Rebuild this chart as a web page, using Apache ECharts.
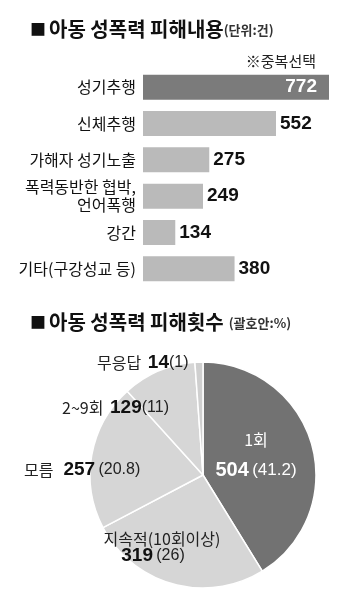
<!DOCTYPE html>
<html><head><meta charset="utf-8">
<script src="https://cdn.jsdelivr.net/npm/echarts@6/dist/echarts.min.js"></script>
<style>html,body{margin:0;padding:0;background:#fff}#c{width:353px;height:607px}</style>
</head><body><div id="c"></div>
<script>
const barCats = ['성기추행', '신체추행', '가해자 성기노출', '폭력동반한 협박,\n언어폭행', '강간', '기타(구강성교 등)'];
const barValues = [772, 552, 275, 249, 134, 380];
const pieNames = ['1회', '지속적(10회이상)', '모름', '2~9회', '무응답'];
const pieValues = [504, 319, 257, 129, 14];
const piePercents = ['41.2', '26', '20.8', '11', '1'];

const KR = "'Noto Sans CJK KR', 'Noto Sans', sans-serif";
const NUM = "'Liberation Sans', Arial, sans-serif";

// label anchor layout for pie labels (x, y, align)
const pieLabelLayout = [
  {x: 256, y: 455, align: 'center'},
  {x: 162, y: 548, align: 'center'},
  {x: 24, y: 470, align: 'left'},
  {x: 62, y: 408, align: 'left'},
  {x: 97, y: 363, align: 'left'}
];

const chart = echarts.init(document.getElementById('c'), null, {renderer: 'canvas'});

const titleRich = {
  sq: {fontSize: 16, fontFamily: KR, color: '#111', padding: [0, 3, 0, 0]},
  t: {fontSize: 20, fontWeight: 'bold', fontFamily: KR, color: '#111'},
  u: {fontSize: 13, fontFamily: KR, color: '#333', padding: [3, 0, 0, 0]}
};

const barData = barValues.map((v, i) => ({
  value: v,
  itemStyle: {color: i === 0 ? '#7b7b7b' : '#bababa'},
  label: i === 0 ? {position: 'insideRight', distance: 12, color: '#fff'} : {position: 'right', distance: 4, color: '#111'}
}));

const pieColors = ['#727272', '#d6d6d6', '#d6d6d6', '#d6d6d6', '#cfcfcf'];
const pieData = pieValues.map((v, i) => ({
  name: pieNames[i], value: v, itemStyle: {color: pieColors[i]}
}));

const pieRich = {
  n: {fontSize: 16, fontFamily: KR, color: '#222'},
  nw: {fontSize: 16, fontFamily: KR, color: '#fff', lineHeight: 30},
  b: {fontSize: 19, fontWeight: 'bold', fontFamily: NUM, color: '#111'},
  bw: {fontSize: 20, fontWeight: 'bold', fontFamily: NUM, color: '#fff', lineHeight: 30},
  p: {fontSize: 16, fontFamily: NUM, color: '#222'},
  p2: {fontSize: 16, fontFamily: NUM, color: '#222', padding: [0, 18, 0, 0]},
  pw: {fontSize: 17, fontFamily: NUM, color: '#fff', lineHeight: 30}
};

chart.setOption({
  animation: false,
  title: [
    {text: '{sq|■}{t|아동 성폭력 피해내용}{u|(단위:건)}', left: 25, top: 14, textStyle: {rich: titleRich}},
    {text: '※중복선택', right: 32, top: 49, textStyle: {fontSize: 15, fontWeight: 'normal', fontFamily: KR, color: '#222'}},
    {text: '{sq|■}{t|아동 성폭력 피해횟수} {u|(괄호안:%)}', left: 25, top: 307, textStyle: {rich: titleRich}}
  ],
  grid: {left: 143, right: 24, top: 69, height: 218, containLabel: false},
  xAxis: {type: 'value', min: 0, max: 772, show: false},
  yAxis: {
    type: 'category', data: barCats, inverse: true,
    axisLine: {show: false}, axisTick: {show: false},
    axisLabel: {fontSize: 16, color: '#111', fontFamily: KR, margin: 7, lineHeight: 18}
  },
  series: [
    {
      type: 'bar', data: barData, barWidth: 25,
      label: {show: true, fontSize: 19, fontWeight: 'bold', fontFamily: NUM}
    },
    {
      type: 'pie', center: [203, 475], radius: 113, startAngle: 90, clockwise: true,
      avoidLabelOverlap: false,
      data: pieData,
      itemStyle: {borderColor: '#fff', borderWidth: 1.5},
      labelLine: {show: false},
      label: {
        show: true, position: 'inside',
        rich: pieRich,
        formatter: function (p) {
          const i = p.dataIndex;
          if (i === 0) return '{nw|' + p.name + '}\n{bw|' + p.value + '} {pw|(' + piePercents[i] + ')}';
          if (i === 1) return '{n|' + p.name + '}\n{b|' + p.value + '} {p2|(' + piePercents[i] + ')}';
          if (i === 2) return '{n|' + p.name + '}   {b|' + p.value + '} {p|(' + piePercents[i] + ')}';
          return '{n|' + p.name + '}  {b|' + p.value + '}{p|(' + piePercents[i] + ')}';
        }
      },
      labelLayout: function (params) {
        const l = pieLabelLayout[params.dataIndex];
        return {x: l.x, y: l.y, align: l.align, verticalAlign: 'middle', hideOverlap: false};
      }
    }
  ]
});
</script></body></html>
